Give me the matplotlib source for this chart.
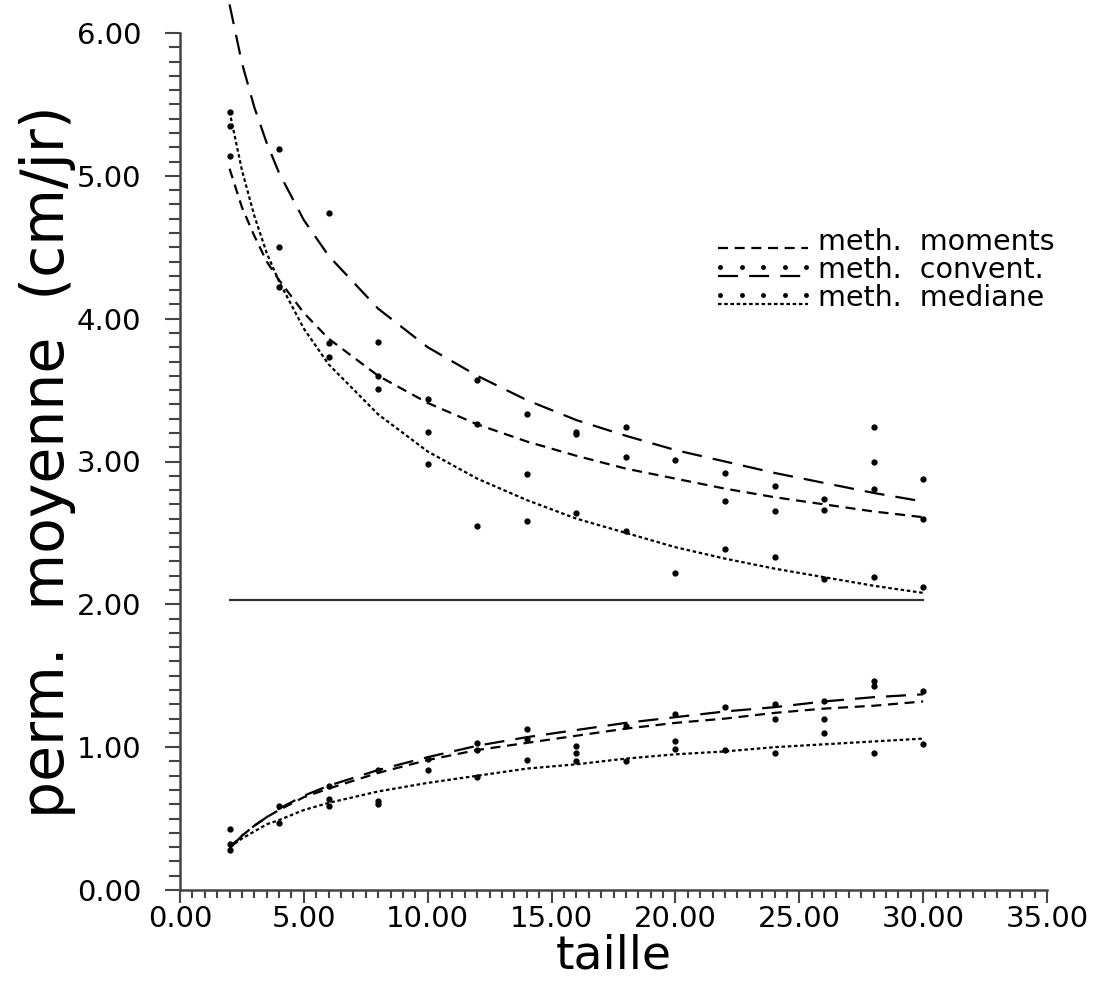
import matplotlib
matplotlib.use("Agg")
import matplotlib.pyplot as plt
from matplotlib.ticker import MultipleLocator, FormatStrFormatter

# abscisses des courbes lissees
taille = [2, 2.5, 3, 3.5, 4, 5, 6, 8, 10, 12, 14, 16, 18, 20, 22, 24, 26, 28, 30]

# groupe haut (decroissant)
conv_haut = [6.20, 5.79, 5.48, 5.23, 5.02, 4.69, 4.44, 4.07, 3.80, 3.60, 3.43, 3.29, 3.18, 3.08, 3.00, 2.92, 2.85, 2.78, 2.72]
mom_haut = [5.05, 4.78, 4.58, 4.40, 4.27, 4.04, 3.86, 3.60, 3.41, 3.26, 3.14, 3.04, 2.95, 2.88, 2.81, 2.75, 2.70, 2.65, 2.61]
med_haut = [5.45, 5.04, 4.72, 4.46, 4.26, 3.93, 3.68, 3.33, 3.07, 2.88, 2.73, 2.60, 2.50, 2.40, 2.32, 2.25, 2.19, 2.13, 2.08]

# groupe bas (croissant)
conv_bas = [0.29, 0.38, 0.45, 0.51, 0.57, 0.66, 0.73, 0.84, 0.93, 1.01, 1.07, 1.12, 1.17, 1.21, 1.25, 1.28, 1.32, 1.35, 1.37]
mom_bas = [0.30, 0.38, 0.45, 0.51, 0.56, 0.65, 0.71, 0.82, 0.91, 0.98, 1.03, 1.08, 1.13, 1.17, 1.20, 1.24, 1.27, 1.29, 1.32]
med_bas = [0.30, 0.36, 0.41, 0.46, 0.49, 0.56, 0.61, 0.69, 0.75, 0.80, 0.85, 0.88, 0.92, 0.95, 0.97, 1.00, 1.02, 1.04, 1.06]

# droite horizontale
ligne_x = [2, 30]
ligne_y = [2.03, 2.03]

# points mesures
pts_x = [2, 2, 2, 4, 4, 4, 6, 6, 6, 8, 8, 8, 10, 10, 10, 12, 12, 12, 14, 14, 14,
         16, 16, 16, 18, 18, 18, 20, 20, 22, 22, 22, 24, 24, 24, 26, 26, 26,
         28, 28, 28, 28, 30, 30, 30,
         2, 2, 2, 4, 4, 6, 6, 6, 8, 8, 8, 10, 10, 12, 12, 12, 14, 14, 14,
         16, 16, 16, 18, 18, 20, 20, 20, 22, 22, 24, 24, 24, 26, 26, 26,
         28, 28, 28, 30, 30]
pts_y = [5.45, 5.35, 5.14, 5.19, 4.50, 4.22, 4.74, 3.83, 3.73, 3.84, 3.60, 3.51,
         3.44, 3.21, 2.98, 3.57, 3.26, 2.55, 3.33, 2.91, 2.58, 3.21, 3.19, 2.64,
         3.24, 3.03, 2.51, 3.01, 2.22, 2.92, 2.72, 2.39, 2.83, 2.65, 2.33,
         2.74, 2.66, 2.18, 3.24, 3.00, 2.81, 2.19, 2.88, 2.60, 2.12,
         0.43, 0.32, 0.28, 0.59, 0.47, 0.73, 0.64, 0.59, 0.84, 0.62, 0.60,
         0.92, 0.84, 1.03, 0.98, 0.79, 1.13, 1.06, 0.91, 1.01, 0.96, 0.90,
         1.15, 0.90, 1.23, 1.04, 0.99, 1.28, 0.98, 1.30, 1.20, 0.96,
         1.32, 1.20, 1.10, 1.46, 1.43, 0.96, 1.39, 1.02]

methodes = ["meth.  moments", "meth.  convent.", "meth.  mediane"]

W, H = 1093, 989
fig = plt.figure(figsize=(W / 100, H / 100), dpi=100)
ax = fig.add_axes([180 / W, 1 - 890 / H, 867 / W, 857 / H])

st_conv = dict(color="black", lw=1.6, dashes=(9, 5), clip_on=False)
st_mom = dict(color="black", lw=1.6, dashes=(4.5, 3), clip_on=False)
st_med = dict(color="black", lw=1.6, dashes=(1.6, 1.2), clip_on=False)

ax.plot(taille, conv_haut, **st_conv)
ax.plot(taille, mom_haut, **st_mom)
ax.plot(taille, med_haut, **st_med)
ax.plot(taille, conv_bas, **st_conv)
ax.plot(taille, mom_bas, **st_mom)
ax.plot(taille, med_bas, **st_med)
ax.plot(ligne_x, ligne_y, color="#333333", lw=1.6)
ax.plot(pts_x, pts_y, "o", color="black", ms=3.5, ls="none")

ax.set_xlim(0, 35)
ax.set_ylim(0, 6)
ax.xaxis.set_major_locator(MultipleLocator(5))
ax.xaxis.set_minor_locator(MultipleLocator(0.5))
ax.yaxis.set_major_locator(MultipleLocator(1))
ax.yaxis.set_minor_locator(MultipleLocator(0.1))
ax.xaxis.set_major_formatter(FormatStrFormatter("%.2f"))
ax.yaxis.set_major_formatter(FormatStrFormatter("%.2f"))

for s in ["top", "right"]:
    ax.spines[s].set_visible(False)
for s in ["left", "bottom"]:
    ax.spines[s].set_linewidth(1.8)
    ax.spines[s].set_color("#444444")

ax.tick_params(axis="x", which="major", length=9, width=1.5, pad=2, labelsize=21, color="#444444")
ax.tick_params(axis="x", which="minor", length=6, width=1.5, color="#444444")
ax.tick_params(axis="y", which="major", length=11, width=1.5, pad=17, labelsize=21, color="#444444")
ax.tick_params(axis="y", which="minor", length=8, width=1.5, color="#444444")

ax.set_xlabel("taille", fontsize=34, labelpad=0)
ax.set_ylabel("perm.  moyenne  (cm/jr)", fontsize=42, labelpad=0)

# legende dessinee a la main
rangs = [248, 276, 304]
styles = [st_mom, st_conv, st_med]
decal = [None, 9, 9]
for lab, py, st, d in zip(methodes, rangs, styles, decal):
    yl = 1 - py / H
    fig.add_artist(plt.Line2D([718 / W, 808 / W], [yl, yl], color="black", lw=1.6,
                              dashes=st["dashes"]))
    if d is not None:
        for px in [720, 742, 763, 785, 806]:
            fig.add_artist(plt.Line2D([px / W], [1 - (py - d) / H], marker="o", ms=2.5,
                                      color="black", ls="none"))
    fig.text(818 / W, 1 - (py - 6) / H, lab, fontsize=20.5, va="center", ha="left")

fig.savefig("out.png", dpi=100)
